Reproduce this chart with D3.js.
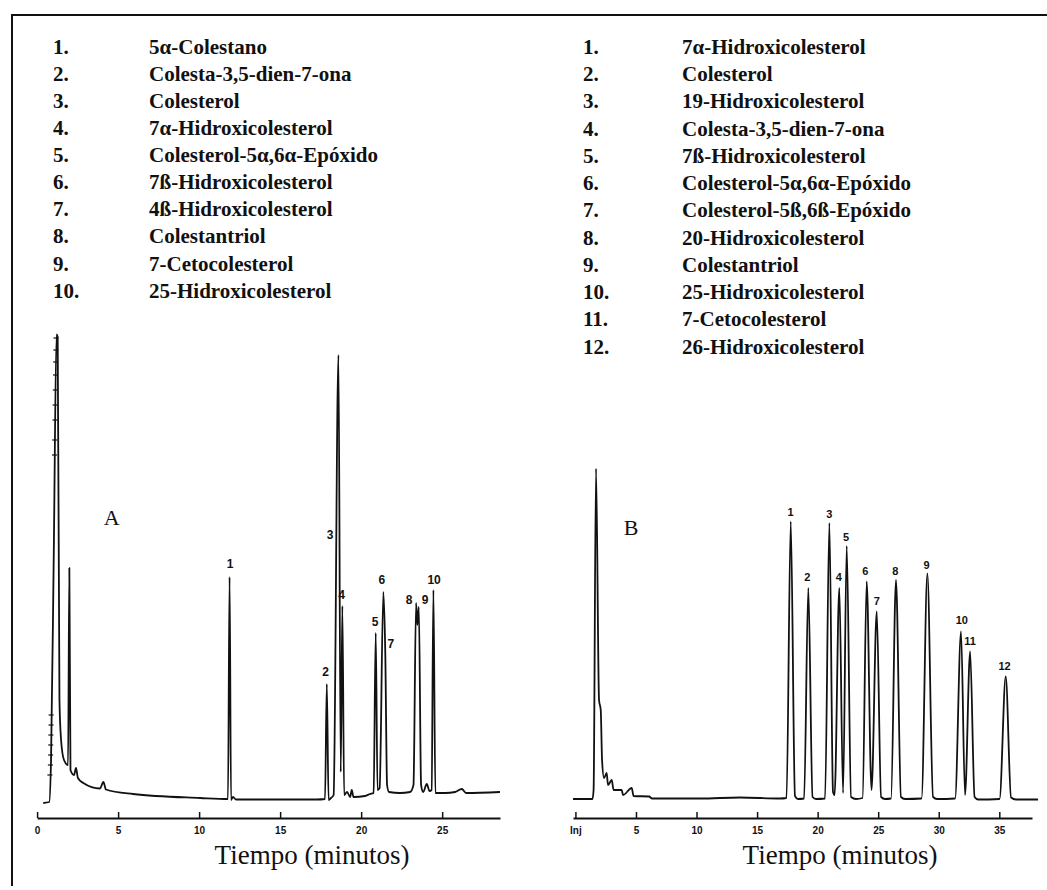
<!DOCTYPE html>
<html><head><meta charset="utf-8">
<script src="https://cdn.jsdelivr.net/npm/d3@7"></script>
<style>body{margin:0;background:#fff}</style>
</head><body>
<svg id="c" width="1047" height="890"></svg>
<script>
// ---------------- DATA ----------------
const legendA = ["5α-Colestano","Colesta-3,5-dien-7-ona","Colesterol","7α-Hidroxicolesterol","Colesterol-5α,6α-Epóxido","7ß-Hidroxicolesterol","4ß-Hidroxicolesterol","Colestantriol","7-Cetocolesterol","25-Hidroxicolesterol"];
const legendB = ["7α-Hidroxicolesterol","Colesterol","19-Hidroxicolesterol","Colesta-3,5-dien-7-ona","7ß-Hidroxicolesterol","Colesterol-5α,6α-Epóxido","Colesterol-5ß,6ß-Epóxido","20-Hidroxicolesterol","Colestantriol","25-Hidroxicolesterol","7-Cetocolesterol","26-Hidroxicolesterol"];

// chromatogram A: [time (min), relative response]
const traceA = [[0.38,-0.2],[0.75,0],[0.86,8.4],[1.03,50.0],[1.20,93.5],[1.27,93.0],[1.38,20.4],[1.48,12.4],[1.66,8.4],[1.91,7.4],[1.99,46.8],[2.06,6.4],[2.28,5.4],[2.40,6.8],[2.52,4.8],[2.85,3.8],[3.88,2.7],[4.09,4.0],[4.25,2.5],[5.92,1.6],[10.06,0.8],[11.78,0.6],[11.88,45.0],[11.97,0.4],[12.09,1.0],[12.28,0.5],[14.17,0.5],[17.26,0.5],[17.77,0.6],[17.88,23.6],[17.99,0.4],[18.14,0.8],[18.30,1.4],[18.60,89.4],[18.74,6.0],[18.84,39.2],[18.95,1.4],[19.13,2.0],[19.32,1.0],[19.42,2.4],[19.53,1.0],[20.24,1.2],[20.55,1.6],[20.77,1.8],[20.90,33.8],[21.01,2.4],[21.14,2.8],[21.37,42.0],[21.49,29.8],[21.60,3.4],[21.72,2.0],[22.40,1.8],[23.02,2.0],[23.23,3.4],[23.39,39.8],[23.47,35.4],[23.56,39.0],[23.70,3.4],[23.83,2.0],[24.05,3.6],[24.22,2.2],[24.35,2.4],[24.46,42.4],[24.58,1.8],[25.18,1.8],[25.80,2.0],[26.21,2.6],[26.48,1.8],[28.57,2.0]];

// attenuation marks on the solvent front of A: [time, response]
const solventMarksA = [[1.197,92.8],[1.188,90.4],[1.178,88.0],[1.168,85.4],[1.156,82.4],[1.144,79.4],[1.132,76.4],[1.116,72.4],[1.104,69.4],[0.896,17.4],[0.888,15.4],[0.880,13.4],[0.872,11.4],[0.864,9.4],[0.850,7.4],[0.820,5.4]];

// chromatogram B
const traceB = [[-0.2,0.2],[1.41,0.2],[1.50,2.0],[1.70,66.3],[1.95,20.0],[2.09,18.0],[2.20,8.0],[2.36,4.4],[2.58,5.4],[2.69,3.0],[3.00,4.0],[3.15,2.0],[3.82,2.0],[3.93,1.0],[4.65,2.4],[4.80,0.8],[6.08,0.7],[6.33,0.3],[10.29,0.3],[13.59,0.5],[16.89,0.3],[17.43,0.4],[17.78,55.7],[18.13,0.8],[18.38,0.2],[18.88,0.3],[19.23,42.4],[19.58,0.6],[19.87,0.2],[20.61,0.3],[20.97,55.4],[21.27,1.6],[21.40,1.0],[21.79,42.4],[22.10,1.4],[22.40,50.8],[22.76,0.6],[23.17,0.2],[23.71,0.4],[24.05,43.7],[24.45,2.0],[24.88,37.7],[25.24,0.6],[25.57,0.2],[26.06,0.3],[26.47,44.0],[26.88,0.6],[27.22,0.2],[28.58,0.3],[29.06,45.3],[29.53,0.6],[29.86,0.2],[31.35,0.3],[31.84,33.7],[32.17,1.0],[32.59,29.7],[32.96,0.6],[33.25,0.1],[35.02,0.2],[35.53,24.7],[35.97,0.5],[36.38,0.1],[38.2,0.1]];

// peak labels (text, time, response)
const peakLabelsA = ["1","2","3","4","5","6","7","8","9","10"];
const peakLabelTimeA = [11.91,17.80,18.08,18.80,20.86,21.27,21.83,22.96,23.94,24.50];
const peakLabelRespA = [47.6,26.1,53.4,41.4,36.1,44.4,31.7,40.4,40.4,44.4];

const peakLabelsB = ["1","2","3","4","5","6","7","8","9","10","11","12"];
const peakLabelTimeB = [17.77,19.15,20.97,21.74,22.35,23.94,24.88,26.42,29.00,31.90,32.59,35.44];
const peakLabelRespB = [57.5,44.5,57.2,44.5,52.5,45.7,39.7,45.7,47.0,36.0,31.7,26.8];

const ticksA = [0,5,10,15,20,25];
const tickLabelsA = ["0","5","10","15","20","25"];
const ticksB = [0,5,10,15,20,25,30,35];
const tickLabelsB = ["Inj","5","10","15","20","25","30","35"];
const axisTitle = "Tiempo (minutos)";
const panelNames = ["A","B"];
const panelNameTime = [4.6, 4.6];
const panelNameResp = [57.0, 54.5];

// ---------------- DRAW ----------------
const svg = d3.select("#c");
svg.append("rect").attr("width",1047).attr("height",890).attr("fill","#fff");

// frame
svg.append("line").attr("x1",12).attr("x2",1047).attr("y1",15).attr("y2",15).attr("stroke","#111").attr("stroke-width",2);
svg.append("line").attr("x1",12).attr("x2",12).attr("y1",14).attr("y2",886).attr("stroke","#111").attr("stroke-width",2);

const serif = "'Liberation Serif','Times New Roman',serif";
const sans = "'Liberation Sans',Arial,sans-serif";

function legend(items, xNum, xName, y0, step){
  const g = svg.append("g").attr("font-family",serif).attr("font-weight","bold").attr("font-size",21).attr("fill","#111");
  items.forEach((d,i)=>{
    const y = y0 + i*step + 7;
    g.append("text").attr("x",xNum).attr("y",y).text((i+1)+".");
    g.append("text").attr("x",xName).attr("y",y).text(d);
  });
}
legend(legendA, 53, 149, 46.7, 27.1);
legend(legendB, 583, 682, 46.7, 27.27);

const xA = d3.scaleLinear().domain([0,28.57]).range([37.1,500]);
const yA = d3.scaleLinear().domain([0,100]).range([802,302]);
const xB = d3.scaleLinear().domain([-0.2,37.7]).range([573,1032]);
const yB = d3.scaleLinear().domain([0,100]).range([800,300]);

function panel(trace, x, y, ticks, tickLabels, labels, lt, lr, name, nt, nr, lblSize){
  const line = d3.line().x(d=>x(d[0])).y(d=>y(d[1])).curve(d3.curveMonotoneX);
  svg.append("path").datum(trace).attr("d",line).attr("fill","none").attr("stroke","#111").attr("stroke-width",1.8).attr("stroke-linejoin","round");
  const ax = svg.append("g").attr("transform","translate(0,818)")
    .call(d3.axisBottom(x).tickValues(ticks).tickFormat((d,i)=>tickLabels[i]).tickSizeInner(-6).tickSizeOuter(0).tickPadding(9));
  ax.select(".domain").attr("stroke","#111").attr("stroke-width",2);
  ax.selectAll(".tick line").attr("stroke","#111").attr("stroke-width",1.5);
  ax.selectAll(".tick text").attr("font-family",sans).attr("font-weight","bold").attr("font-size",10).attr("fill","#111");
  const g = svg.append("g").attr("font-family",sans).attr("font-weight","bold").attr("font-size",lblSize).attr("fill","#111").attr("text-anchor","middle");
  labels.forEach((t,i)=>{
    g.append("text").attr("x",x(lt[i])).attr("y",y(lr[i])).attr("dy","0.35em").text(t);
  });
  svg.append("text").attr("x",x(nt)).attr("y",y(nr)).attr("dy","0.35em").attr("text-anchor","middle")
    .attr("font-family",serif).attr("font-size",22).attr("fill","#111").text(name);
}
panel(traceA, xA, yA, ticksA, tickLabelsA, peakLabelsA, peakLabelTimeA, peakLabelRespA, panelNames[0], panelNameTime[0], panelNameResp[0], 12);
panel(traceB, xB, yB, ticksB, tickLabelsB, peakLabelsB, peakLabelTimeB, peakLabelRespB, panelNames[1], panelNameTime[1], panelNameResp[1], 11);

// attenuation marks on the solvent peak of A
svg.append("g").selectAll("line").data(solventMarksA).join("line")
  .attr("x1",d=>xA(d[0])-3).attr("x2",d=>xA(d[0])+2)
  .attr("y1",d=>yA(d[1])).attr("y2",d=>yA(d[1]))
  .attr("stroke","#111").attr("stroke-width",1.2);

// axis titles
svg.append("text").attr("x",312).attr("y",864).attr("text-anchor","middle").attr("font-family",serif).attr("font-size",27).attr("fill","#111").text(axisTitle);
svg.append("text").attr("x",840).attr("y",864).attr("text-anchor","middle").attr("font-family",serif).attr("font-size",27).attr("fill","#111").text(axisTitle);
</script>
</body></html>
